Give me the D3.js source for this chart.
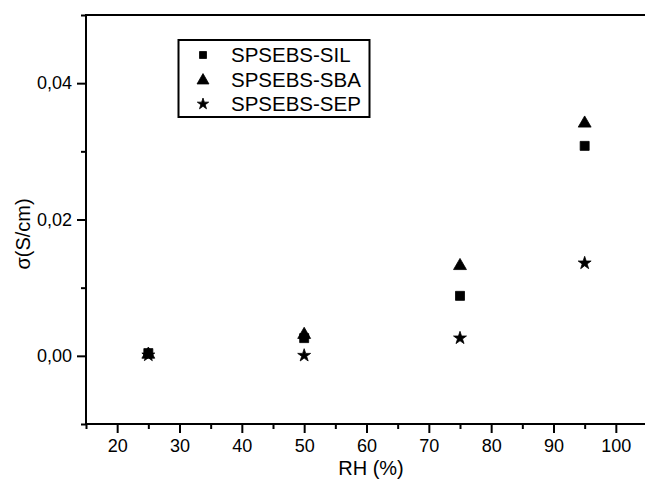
<!doctype html>
<html>
<head>
<meta charset="utf-8">
<script src="https://cdn.jsdelivr.net/npm/d3@7"></script>
<style>
  body { margin: 0; background: #fff; }
  text { font-family: "Liberation Sans", Arial, sans-serif; fill: #000; }
</style>
</head>
<body>
<svg width="645" height="479"></svg>
<script>
// relative humidity (%)
let rh = [25, 50, 75, 95]

// conductivity (S/cm) per membrane
let sil = [0.0004, 0.0026, 0.0088, 0.0308]
let sba = [0.0002, 0.0031, 0.0132, 0.0341]
let sep = [0.0001, 0.00005, 0.0026, 0.0136]

let seriesNames = ["SPSEBS-SIL", "SPSEBS-SBA", "SPSEBS-SEP"]

let xTicks = [20, 30, 40, 50, 60, 70, 80, 90, 100]
let xMinor = [15, 25, 35, 45, 55, 65, 75, 85, 95, 105]
let yTicks = [0, 0.02, 0.04]
let yMinor = [-0.01, 0.01, 0.03, 0.05]

let svg = d3.select("svg")
let mLeft = 86, mRight = 647, mTop = 15, mBottom = 424

let x = d3.scaleLinear().domain([15, 105]).range([mLeft, mRight])
let y = d3.scaleLinear().domain([-0.01, 0.05]).range([mBottom, mTop])

let fmt = d => d3.format(".2f")(d).replace(".", ",")

// minor ticks
svg.append("g")
    .attr("transform", `translate(0,${mBottom})`)
    .call(d3.axisBottom(x).tickValues(xMinor).tickSize(5).tickFormat(""))
svg.append("g")
    .attr("transform", `translate(${mLeft},0)`)
    .call(d3.axisLeft(y).tickValues(yMinor).tickSize(5).tickFormat(""))

// major ticks
svg.append("g")
    .attr("class", "xaxis")
    .attr("transform", `translate(0,${mBottom})`)
    .call(d3.axisBottom(x).tickValues(xTicks).tickSize(9).tickPadding(6))
svg.append("g")
    .attr("class", "yaxis")
    .attr("transform", `translate(${mLeft},0)`)
    .call(d3.axisLeft(y).tickValues(yTicks).tickSize(9).tickPadding(5).tickFormat(fmt))

svg.selectAll(".domain").remove()
svg.selectAll(".tick line").attr("stroke", "#000").attr("stroke-width", 2)
svg.selectAll(".tick text").attr("font-size", 18).attr("font-family", "Liberation Sans, Arial, sans-serif")

// frame
svg.append("rect")
    .attr("x", mLeft).attr("y", mTop)
    .attr("width", mRight - mLeft).attr("height", mBottom - mTop)
    .attr("fill", "none").attr("stroke", "#000").attr("stroke-width", 2)

// axis titles
svg.append("text")
    .attr("x", 371).attr("y", 475)
    .attr("text-anchor", "middle")
    .attr("font-size", 20)
    .text("RH (%)")
svg.append("text")
    .attr("transform", "translate(30,234) rotate(-90)")
    .attr("text-anchor", "middle")
    .attr("font-size", 20)
    .text("σ(S/cm)")

let symbols = [
  d3.symbol().type(d3.symbolSquare).size(81),
  d3.symbol().type(d3.symbolTriangle).size(72),
  d3.symbol().type(d3.symbolStar).size(52)
]

let data = [sil, sba, sep]
data.forEach((vals, s) => {
  svg.append("g")
    .selectAll("path")
    .data(vals)
    .enter().append("path")
      .attr("d", symbols[s])
      .attr("transform", (d, i) => `translate(${x(rh[i])},${y(d)})`)
      .attr("fill", "#000")
      .attr("stroke", "#000")
      .attr("stroke-width", 0.8)
      .attr("stroke-linejoin", "round")
})

// legend
let legend = svg.append("g")
legend.append("rect")
    .attr("x", 178.5).attr("y", 40)
    .attr("width", 191).attr("height", 77)
    .attr("fill", "#fff").attr("stroke", "#000").attr("stroke-width", 2)

let legendSymbols = [
  d3.symbol().type(d3.symbolSquare).size(49),
  d3.symbol().type(d3.symbolTriangle).size(62),
  d3.symbol().type(d3.symbolStar).size(40)
]
let rowY = [55, 80.5, 104]
seriesNames.forEach((name, i) => {
  legend.append("path")
      .attr("d", legendSymbols[i])
      .attr("transform", `translate(203,${rowY[i]})`)
      .attr("fill", "#000")
      .attr("stroke", "#000")
      .attr("stroke-width", 0.8)
  legend.append("text")
      .attr("x", 231).attr("y", rowY[i] + 6.5)
      .attr("font-size", 20.5)
      .text(name)
})
</script>
</body>
</html>
